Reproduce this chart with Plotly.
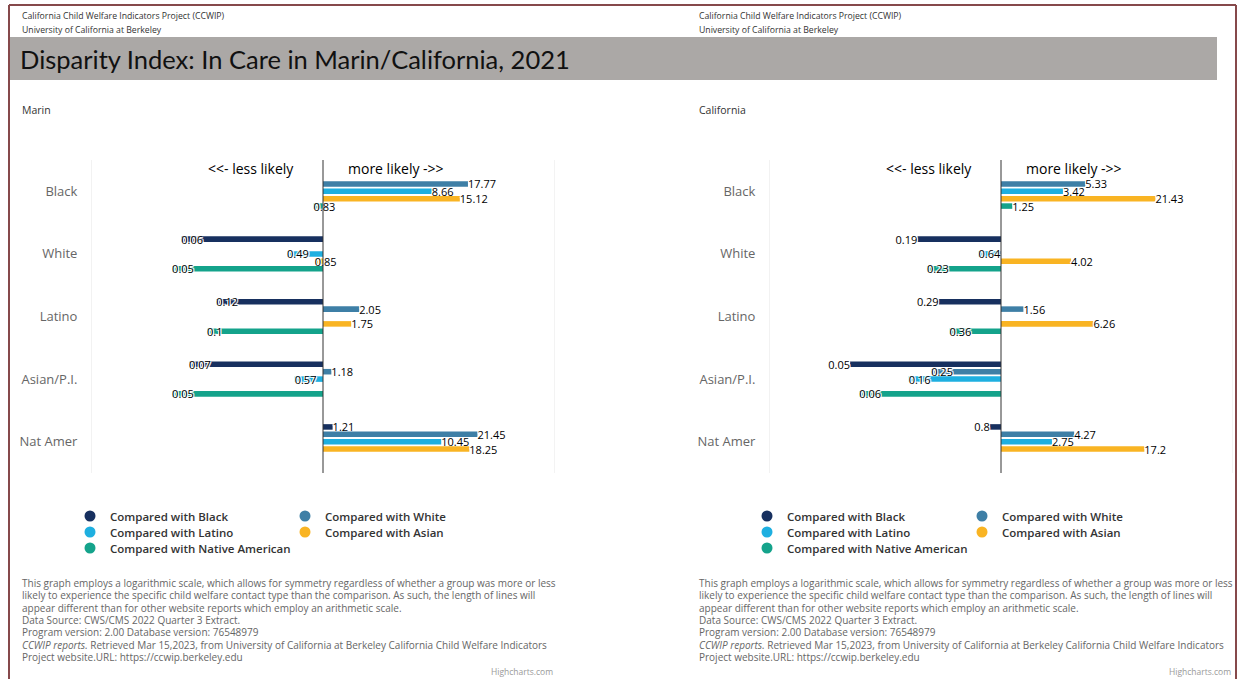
import plotly.graph_objects as go

W, H = 1244, 679

# ---------------- data ----------------
categories = ["Black", "White", "Latino", "Asian/P.I.", "Nat Amer"]
series_names = [
    "Compared with Black",
    "Compared with White",
    "Compared with Latino",
    "Compared with Asian",
    "Compared with Native American",
]

marin_vs_black = [None, 0.06, 0.12, 0.07, 1.21]
marin_vs_white = [17.77, None, 2.05, 1.18, 21.45]
marin_vs_latino = [8.66, 0.49, None, 0.57, 10.45]
marin_vs_asian = [15.12, 0.85, 1.75, None, 18.25]
marin_vs_native = [0.83, 0.05, 0.1, 0.05, None]

ca_vs_black = [None, 0.19, 0.29, 0.05, 0.8]
ca_vs_white = [5.33, None, 1.56, 0.25, 4.27]
ca_vs_latino = [3.42, 0.64, None, 0.16, 2.75]
ca_vs_asian = [21.43, 4.02, 6.26, None, 17.2]
ca_vs_native = [1.25, 0.23, 0.36, 0.06, None]

title_text = "Disparity Index: In Care in Marin/California, 2021"
header_lines = ["California Child Welfare Indicators Project (CCWIP)",
                "University of California at Berkeley"]
footnote_lines = [
    "This graph employs a logarithmic scale, which allows for symmetry regardless of whether a group was more or less",
    "likely to experience the specific child welfare contact type than the comparison. As such, the length of lines will",
    "appear different than for other website reports which employ an arithmetic scale.",
    "Data Source: CWS/CMS 2022 Quarter 3 Extract.",
    "Program version: 2.00 Database version: 76548979",
    "<i>CCWIP reports.</i> Retrieved Mar 15,2023, from University of California at Berkeley California Child Welfare Indicators",
    "Project website.URL: https://ccwip.berkeley.edu",
]

# ---------------- style ----------------
series_colors = ["#17305f", "#3e7fa6", "#1eafe0", "#f9b423", "#14a38b"]
FONT = "Open Sans"
outline = "1px 1px 0 #fff, -1px -1px 0 #fff, 1px -1px 0 #fff, -1px 1px 0 #fff"
label_font = dict(family=FONT, size=11, color="#000", shadow=outline)

panels = [
    dict(name="Marin", values=[marin_vs_black, marin_vs_white, marin_vs_latino, marin_vs_asian, marin_vs_native],
         text_x=20, plot_x0=91, plot_x1=555, outside_neg=set(), xa="x", ya="y"),
    dict(name="California", values=[ca_vs_black, ca_vs_white, ca_vs_latino, ca_vs_asian, ca_vs_native],
         text_x=697, plot_x0=769, plot_x1=1233, outside_neg={"Compared with Black"}, xa="x2", ya="y2"),
]
PLOT_Y0, PLOT_Y1 = 160, 473


def px(x):
    return x / W


def py(y):
    return 1 - y / H


fig = go.Figure()
legend_rows = [[0, 1], [2, 3], [4]]
annotations = []
shapes = []
layout_extra = {}

for pi, panel in enumerate(panels):
    xa, ya = panel["xa"], panel["ya"]
    for si, name in enumerate(series_names):
        vals = panel["values"][si]
        pos = []
        for v in vals:
            if v is None:
                pos.append("none")
            elif v >= 1 or name in panel["outside_neg"]:
                pos.append("outside")
            else:
                pos.append("inside")
        fig.add_trace(go.Bar(
            orientation="h", y=categories,
            x=[None if v is None else v - 1 for v in vals], base=1,
            text=["" if v is None else f"{v:g}" for v in vals],
            textposition=pos, insidetextanchor="end", textangle=0,
            constraintext="none", cliponaxis=False,
            textfont=label_font, insidetextfont=label_font, outsidetextfont=label_font,
            marker=dict(color=series_colors[si], line=dict(width=0)),
            name=name, showlegend=False, xaxis=xa, yaxis=ya, hoverinfo="skip"))

    # legend entries (rows)
    for ri, row in enumerate(legend_rows):
        idx = pi * 3 + ri
        lname = "legend" if idx == 0 else f"legend{idx + 1}"
        for si in row:
            fig.add_trace(go.Scatter(
                x=[None], y=[None], mode="markers",
                marker=dict(size=11, color=series_colors[si]),
                name=series_names[si], legend=lname, showlegend=True,
                xaxis=xa, yaxis=ya, hoverinfo="skip"))
        layout_extra[lname] = dict(
            orientation="h", x=px(panel["text_x"] + 50), xanchor="left",
            y=py(516 + ri * 16), yanchor="middle",
            entrywidth=170 if len(row) > 1 else 230, entrywidthmode="pixels",
            font=dict(family=FONT, size=11.5, color="#333", weight=600),
            bgcolor="rgba(0,0,0,0)", itemsizing="trace", itemwidth=30,
            tracegroupgap=0)

    # axes
    xkey = "xaxis" if pi == 0 else "xaxis2"
    ykey = "yaxis" if pi == 0 else "yaxis2"
    layout_extra[xkey] = dict(
        type="log", range=[-2, 2], domain=[px(panel["plot_x0"]), px(panel["plot_x1"])],
        showgrid=False, zeroline=False, showticklabels=False, showline=False,
        ticks="", anchor=ya, fixedrange=True)
    layout_extra[ykey] = dict(
        type="category", categoryorder="array", categoryarray=categories,
        range=[4.5, -0.5], domain=[py(PLOT_Y1), py(PLOT_Y0)], anchor=xa,
        showgrid=False, zeroline=False, showline=False,
        ticks="outside", ticklen=10, tickcolor="rgba(0,0,0,0)",
        tickfont=dict(family=FONT, size=13, color="#666"), fixedrange=True)

    # plot edge lines and center line
    for xv in (0.01, 100):
        shapes.append(dict(type="line", xref=xa, yref=f"{ya} domain", x0=xv, x1=xv, y0=0, y1=1,
                           line=dict(color="#e6e6e6", width=1), layer="below"))
    shapes.append(dict(type="line", xref=xa, yref=f"{ya} domain", x0=1, x1=1, y0=0, y1=1,
                       line=dict(color="#333", width=1), layer="above"))

    # direction labels
    annotations.append(dict(xref=xa, yref="paper", x=0, y=py(168), xanchor="right", yanchor="middle",
                            xshift=-27, text="<<- less likely", showarrow=False,
                            font=dict(family=FONT, size=14, color="#000")))
    annotations.append(dict(xref=xa, yref="paper", x=0, y=py(168), xanchor="left", yanchor="middle",
                            xshift=23, text="more likely ->>", showarrow=False,
                            font=dict(family=FONT, size=14, color="#000")))

    # header, region name, footnotes
    tx = panel["text_x"]
    for li, line in enumerate(header_lines):
        annotations.append(dict(xref="paper", yref="paper", x=px(tx), y=py(16 + li * 14),
                                xanchor="left", yanchor="middle", text=line, showarrow=False,
                                font=dict(family=FONT, size=8.7, color="#333")))
    annotations.append(dict(xref="paper", yref="paper", x=px(tx), y=py(110), xanchor="left",
                            yanchor="middle", text=panel["name"], showarrow=False,
                            font=dict(family=FONT, size=10.5, color="#333")))
    for li, line in enumerate(footnote_lines):
        annotations.append(dict(xref="paper", yref="paper", x=px(tx), y=py(583 + li * 12.35),
                                xanchor="left", yanchor="middle", text=line, showarrow=False,
                                font=dict(family=FONT, size=10, color="#666")))
    annotations.append(dict(xref="paper", yref="paper", x=px(panel["plot_x1"]), y=py(671),
                            xanchor="right", yanchor="middle", text="Highcharts.com", showarrow=False,
                            font=dict(family=FONT, size=8.5, color="#999")))

# slide frame and title banner
frame_color = "#86494b"
shapes.append(dict(type="line", xref="paper", yref="paper", x0=px(9), x1=px(9), y0=0, y1=py(5),
                   line=dict(color=frame_color, width=2), layer="above"))
shapes.append(dict(type="line", xref="paper", yref="paper", x0=px(9), x1=px(1236), y0=py(5), y1=py(5),
                   line=dict(color=frame_color, width=2), layer="above"))
shapes.append(dict(type="line", xref="paper", yref="paper", x0=px(1236), x1=px(1236), y0=0, y1=py(5),
                   line=dict(color=frame_color, width=2), layer="above"))
shapes.append(dict(type="rect", xref="paper", yref="paper", x0=px(10), x1=px(1217), y0=py(80), y1=py(37),
                   fillcolor="#aba8a6", line=dict(width=0), layer="above"))
annotations.append(dict(xref="paper", yref="paper", x=px(18), y=py(59), xanchor="left", yanchor="middle",
                        text=title_text, showarrow=False,
                        font=dict(family="Lato", size=25.5, color="#111")))

fig.update_layout(
    width=W, height=H, margin=dict(l=0, r=0, t=0, b=0),
    paper_bgcolor="white", plot_bgcolor="white",
    barmode="group", bargap=0.41, bargroupgap=0.25,
    annotations=annotations, shapes=shapes,
    font=dict(family=FONT),
    **layout_extra,
)

fig.write_html("out.html", include_plotlyjs=True, config={"displayModeBar": False},
               post_script="document.body.style.margin='0';document.body.style.overflow='hidden';")
